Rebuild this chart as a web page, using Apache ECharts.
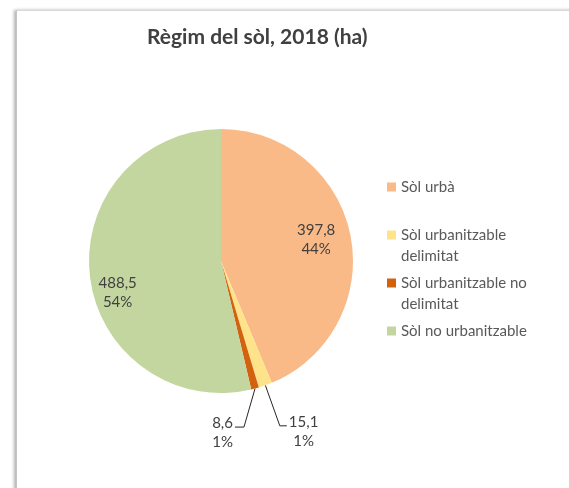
<!DOCTYPE html>
<html>
<head>
<meta charset="utf-8">
<script src="https://cdn.jsdelivr.net/npm/echarts@6/dist/echarts.min.js"></script>
<style>
  html, body { margin: 0; padding: 0; width: 569px; height: 488px; overflow: hidden; background: #fff; }
  #frame {
    position: absolute; left: 16px; top: 10px; width: 600px; height: 520px;
    border-top: 1px solid #d9d9d9; border-left: 1px solid #c4c4c4;
    box-shadow: -2px 0 3px rgba(0, 0, 0, 0.3); background: #fff;
  }
  #chart { position: absolute; left: 0; top: 0; width: 569px; height: 488px; }
</style>
</head>
<body>
<div id="frame"></div>
<div id="chart"></div>
<script>
// Land regime, 2018 (hectares)
const categories = ['Sòl urbà', 'Sòl urbanitzable delimitat', 'Sòl urbanitzable no delimitat', 'Sòl no urbanitzable'];
const values = [397.8, 15.1, 8.6, 488.5];

const palette = ['#F9BA87', '#FFE38A', '#D3620E', '#C4D69F'];
const CX = 221, CY = 261, R = 132;

const total = values.reduce((a, b) => a + b, 0);
const fmtNum = v => v.toFixed(1).replace('.', ',');

const chart = echarts.init(document.getElementById('chart'), null, { renderer: 'canvas' });

chart.setOption({
  animation: false,
  color: palette,
  title: {
    text: 'Règim del sòl, 2018 (ha)',
    left: 147, top: 27, padding: 0,
    textStyle: { fontFamily: 'Lato', fontSize: 21, fontWeight: 'bold', color: '#404040' }
  },
  legend: {
    orient: 'vertical', left: 387, top: 154.75, padding: 0,
    itemWidth: 9, itemHeight: 9, itemGap: -16.5, icon: 'rect',
    data: categories,
    // three-line block: the marker sits on the middle line, which holds the name's first line
    formatter: name => {
      const t = name.replace(/ (delimitat)$/, '\n$1');
      return ' \n' + (t.indexOf('\n') >= 0 ? t : t + '\n ');
    },
    textStyle: { fontFamily: 'Lato', fontSize: 15, color: '#595959', lineHeight: 21.5 }
  },
  series: [{
    type: 'pie',
    center: [CX, CY], radius: R,
    startAngle: 90, clockwise: true,
    avoidLabelOverlap: false,
    percentPrecision: 0,
    itemStyle: { borderWidth: 0 },
    emphasis: { disabled: true },
    label: {
      show: true,
      formatter: p => fmtNum(p.value) + '\n' + p.percent + '%',
      fontFamily: 'Lato', fontSize: 15, lineHeight: 19, color: '#404040', align: 'center'
    },
    labelLine: { show: true, length: 43, length2: 7, lineStyle: { color: '#262626', width: 1 } },
    data: categories.map((name, i) => ({
      name: name,
      value: values[i],
      label: { position: values[i] / total < 0.03 ? 'outside' : 'inside' },
      labelLine: { show: values[i] / total < 0.03 }
    })),
    labelLayout: function (p) {
      const r = p.labelRect;
      const small = values[p.dataIndex] / total < 0.03;
      if (!small) {
        // push inside labels further out along their radius
        const cx = r.x + r.width / 2, cy = r.y + r.height / 2;
        const k = 1.406;
        let x = CX + (cx - CX) * k, y = CY + (cy - CY) * k - 2;
        if (p.dataIndex === 3) { x -= 7; y += 22; }
        return { x: x, y: y, align: 'center', verticalAlign: 'middle' };
      }
      const pts = p.labelLinePoints;
      if (!pts) return;
      const a = pts[0];
      let b = pts[1], c = pts[2];
      const leftSide = p.dataIndex === 2;
      if (leftSide) {
        b = [a[0] - (pts[1][0] - a[0]), pts[1][1] - 3];
        c = [b[0] - 9, b[1]];
      }
      const half = r.width / 2 + 2;
      return {
        x: leftSide ? c[0] - half : c[0] + half,
        y: c[1] + 6,
        align: 'center', verticalAlign: 'middle',
        labelLinePoints: [a, b, c]
      };
    }
  }]
});
</script>
</body>
</html>
